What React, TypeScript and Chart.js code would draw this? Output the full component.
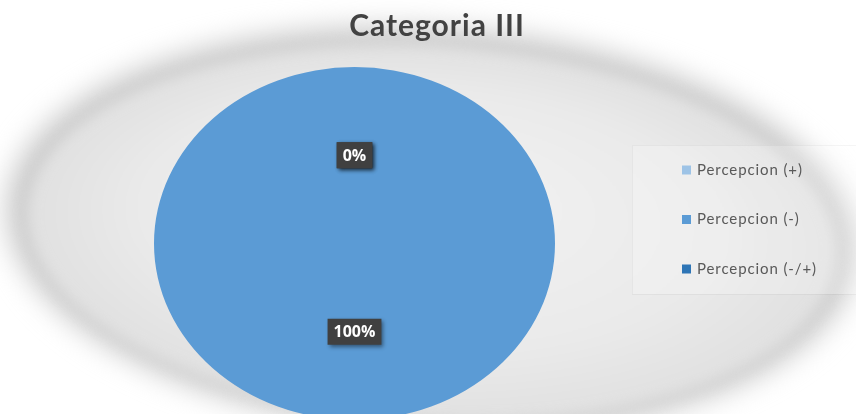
import React, { useEffect, useRef } from "react";
import { Chart, registerables } from "chart.js";

Chart.register(...registerables);

const TITLE = "Categoria III";
const categories = ["Percepcion (+)", "Percepcion (-)", "Percepcion (-/+)"];
const values = [0, 100, 0];
const colors = ["#9DC3E6", "#5B9BD5", "#2E75B6"];

const W = 856;
const H = 430;
const PIE_SX = 200.5 / 176.5;

const backgroundPlugin = {
  id: "bgGlow",
  beforeDraw(chart: any) {
    const ctx = chart.ctx;
    ctx.save();
    ctx.fillStyle = "#ffffff";
    ctx.fillRect(0, 0, W, H);
    const cx = 432;
    const cy = 230;
    const rot = 0.06;
    ctx.filter = "blur(14px)";
    ctx.beginPath();
    ctx.ellipse(cx, cy, 426, 202, rot, 0, Math.PI * 2);
    ctx.fillStyle = "#c9c9c9";
    ctx.fill();
    ctx.filter = "blur(7px)";
    ctx.save();
    ctx.translate(cx, cy + 3);
    ctx.rotate(rot);
    ctx.scale(1, 188 / 406);
    const g = ctx.createRadialGradient(-20, -90, 0, 0, 0, 406);
    g.addColorStop(0, "#f3f3f3");
    g.addColorStop(0.7, "#eaeaea");
    g.addColorStop(1, "#e0e0e0");
    ctx.beginPath();
    ctx.arc(0, 0, 406, 0, Math.PI * 2);
    ctx.fillStyle = g;
    ctx.fill();
    ctx.restore();
    ctx.filter = "none";
    ctx.restore();
  },
};

const titlePlugin = {
  id: "customTitle",
  afterDraw(chart: any) {
    const ctx = chart.ctx;
    ctx.save();
    ctx.font = "bold 30px Lato, 'Open Sans', sans-serif";
    (ctx as any).letterSpacing = "1px";
    ctx.textAlign = "center";
    ctx.textBaseline = "alphabetic";
    ctx.fillStyle = "#424242";
    ctx.fillText(TITLE, 437, 36);
    ctx.restore();
  },
};

const ellipsePlugin = {
  id: "ellipsePie",
  beforeDatasetsDraw(chart: any) {
    const meta = chart.getDatasetMeta(0);
    const arc = meta.data[0];
    const ctx = chart.ctx;
    ctx.save();
    ctx.translate(arc.x, 0);
    ctx.scale(PIE_SX, 1);
    ctx.translate(-arc.x, 0);
  },
  afterDatasetsDraw(chart: any) {
    chart.ctx.restore();
  },
};

const labelsPlugin = {
  id: "pieLabels",
  afterDatasetsDraw(chart: any) {
    const ctx = chart.ctx;
    const meta = chart.getDatasetMeta(0);
    const data = chart.data.datasets[0].data as number[];
    const total = data.reduce((a, b) => a + b, 0);
    ctx.save();
    ctx.font = "bold 16px 'Open Sans', Lato, sans-serif";
    ctx.textAlign = "center";
    ctx.textBaseline = "middle";
    meta.data.forEach((arc: any, i: number) => {
      const p = arc.getProps(["x", "y", "startAngle", "endAngle", "outerRadius"], true);
      const mid = (p.startAngle + p.endAngle) / 2;
      const r = p.outerRadius * 0.5;
      const x = p.x + Math.cos(mid) * r * PIE_SX;
      const y = p.y + Math.sin(mid) * r;
      const txt = Math.round((data[i] / total) * 100) + "%";
      const tw = ctx.measureText(txt).width;
      const bw = tw + 12;
      const bh = 26;
      ctx.save();
      ctx.shadowColor = "rgba(0,0,0,0.45)";
      ctx.shadowBlur = 4;
      ctx.shadowOffsetX = 2;
      ctx.shadowOffsetY = 2;
      ctx.fillStyle = "#404040";
      ctx.fillRect(x - bw / 2, y - bh / 2, bw, bh);
      ctx.restore();
      ctx.fillStyle = "#ffffff";
      ctx.fillText(txt, x, y + 1);
    });
    ctx.restore();
  },
};

const legendPlugin = {
  id: "customLegend",
  afterDraw(chart: any) {
    const ctx = chart.ctx;
    ctx.save();
    ctx.fillStyle = "rgba(255,255,255,0.22)";
    ctx.fillRect(632, 145, 224, 149);
    ctx.strokeStyle = "rgba(0,0,0,0.04)";
    ctx.strokeRect(632.5, 145.5, 224, 149);
    ctx.font = "15px Lato, 'Open Sans', sans-serif";
    (ctx as any).letterSpacing = "0.9px";
    ctx.textBaseline = "middle";
    ctx.textAlign = "left";
    categories.forEach((c, i) => {
      const cy = 170 + i * 49.5;
      ctx.fillStyle = colors[i];
      ctx.fillRect(682, cy - 4.5, 9, 9);
      ctx.fillStyle = "#595959";
      ctx.fillText(c, 697, cy);
    });
    ctx.restore();
  },
};

export default function App() {
  const ref = useRef<HTMLCanvasElement | null>(null);
  useEffect(() => {
    if (!ref.current) return;
    const chart = new Chart(ref.current, {
      type: "pie",
      data: {
        labels: categories,
        datasets: [
          {
            data: values,
            backgroundColor: colors,
            borderWidth: 0,
            clip: false as any,
          },
        ],
      },
      options: {
        responsive: false,
        animation: false,
        devicePixelRatio: 1,
        layout: { padding: { top: 67, bottom: 10, left: 178, right: 325 } },
        plugins: {
          legend: { display: false },
          title: { display: false },
          tooltip: { enabled: false },
        },
      },
      plugins: [backgroundPlugin, ellipsePlugin, labelsPlugin, titlePlugin, legendPlugin],
    });
    return () => chart.destroy();
  }, []);
  return (
    <div style={{ position: "fixed", left: 0, top: 0, width: W, height: 414, overflow: "hidden", background: "#fff" }}>
      <canvas ref={ref} width={W} height={H} style={{ display: "block", width: W, height: H }} />
    </div>
  );
}
